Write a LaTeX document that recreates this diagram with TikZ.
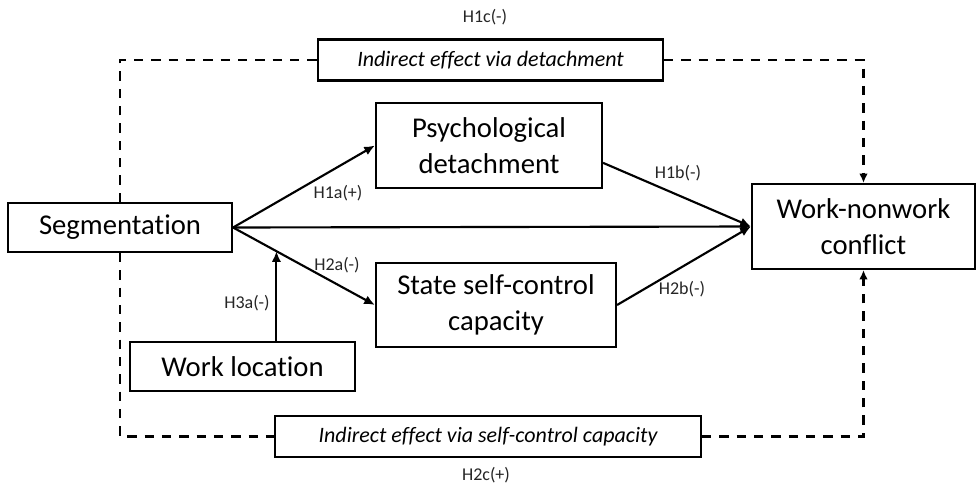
\documentclass[tikz,border=0pt]{standalone}
\usepackage{fontspec}
\setmainfont{Carlito}[Ligatures=NoCommon]
\usetikzlibrary{arrows.meta,calc}
\begin{document}
\begin{tikzpicture}[x=0.75pt,y=-0.75pt,
  box/.style={draw,line width=1.6pt,align=center,inner sep=0pt,font=\fontsize{21.5}{27.5}\selectfont},
  ibox/.style={draw,line width=1.6pt,inner sep=0pt,font=\fontsize{16.5}{19}\selectfont\itshape},
  hlab/.style={font=\fontsize{13.5}{15}\selectfont,text=black!85},
  arr/.style={line width=1.6pt,-{Latex[length=8pt,width=7pt]}},
  darr/.style={line width=2pt,dash pattern=on 7pt off 6pt},
]
\useasboundingbox[fill=white] (0,0) rectangle (976,490);
\node[box,minimum width=168pt,minimum height=36.75pt] (seg) at (120,227.5) {Segmentation};
\node[box,minimum width=169.5pt,minimum height=63.75pt] (psy) at (489,145.5) {Psychological\\detachment};
\node[box,minimum width=167.25pt,minimum height=63.75pt] (wnc) at (863.5,226.5) {Work-nonwork\\conflict};
\node[box,minimum width=180pt,minimum height=63pt] (ssc) at (496,305) {State self-control\\capacity};
\node[box,minimum width=168.75pt,minimum height=36.75pt] (wl) at (242.5,366.5) {Work location};
\node[ibox,minimum width=258.75pt,minimum height=30.75pt] (ied) at (490.5,60) {Indirect effect via detachment};
\node[ibox,minimum width=319.5pt,minimum height=30.75pt] (ies) at (488,436.5) {Indirect effect via self-control capacity};

\node[hlab] (h1c) at (485,17) {H1c(-)};
\node[hlab] (h2c) at (486,475) {H2c(+)};
\node[hlab] (h1a) at (338,193) {H1a(+)};
\node[hlab] (h1b) at (678,173) {H1b(-)};
\node[hlab] (h2a) at (337,265) {H2a(-)};
\node[hlab] (h2b) at (682,289) {H2b(-)};
\node[hlab] (h3a) at (247,303) {H3a(-)};

\coordinate (m) at ($(seg.east)!0.3056!(ssc.west)$);
\draw[arr] (seg.east) -- (psy.west);
\draw[arr] (seg.east) -- (wnc.west);
\draw[arr] (seg.east) -- (ssc.west);
\draw[arr] ([yshift=-13pt]psy.east) -- (wnc.west);
\draw[arr] (ssc.east) -- (wnc.west);
\draw[arr] (m |- wl.north) -- (m);

\draw[darr] (seg.north) |- (ied.west);
\draw[darr,-{Latex[length=7pt,width=6.5pt]}] (ied.east) -| (wnc.north);
\draw[darr] (seg.south) |- (ies.west);
\draw[darr,-{Latex[length=7pt,width=6.5pt]}] (ies.east) -| (wnc.south);
\end{tikzpicture}
\end{document}
